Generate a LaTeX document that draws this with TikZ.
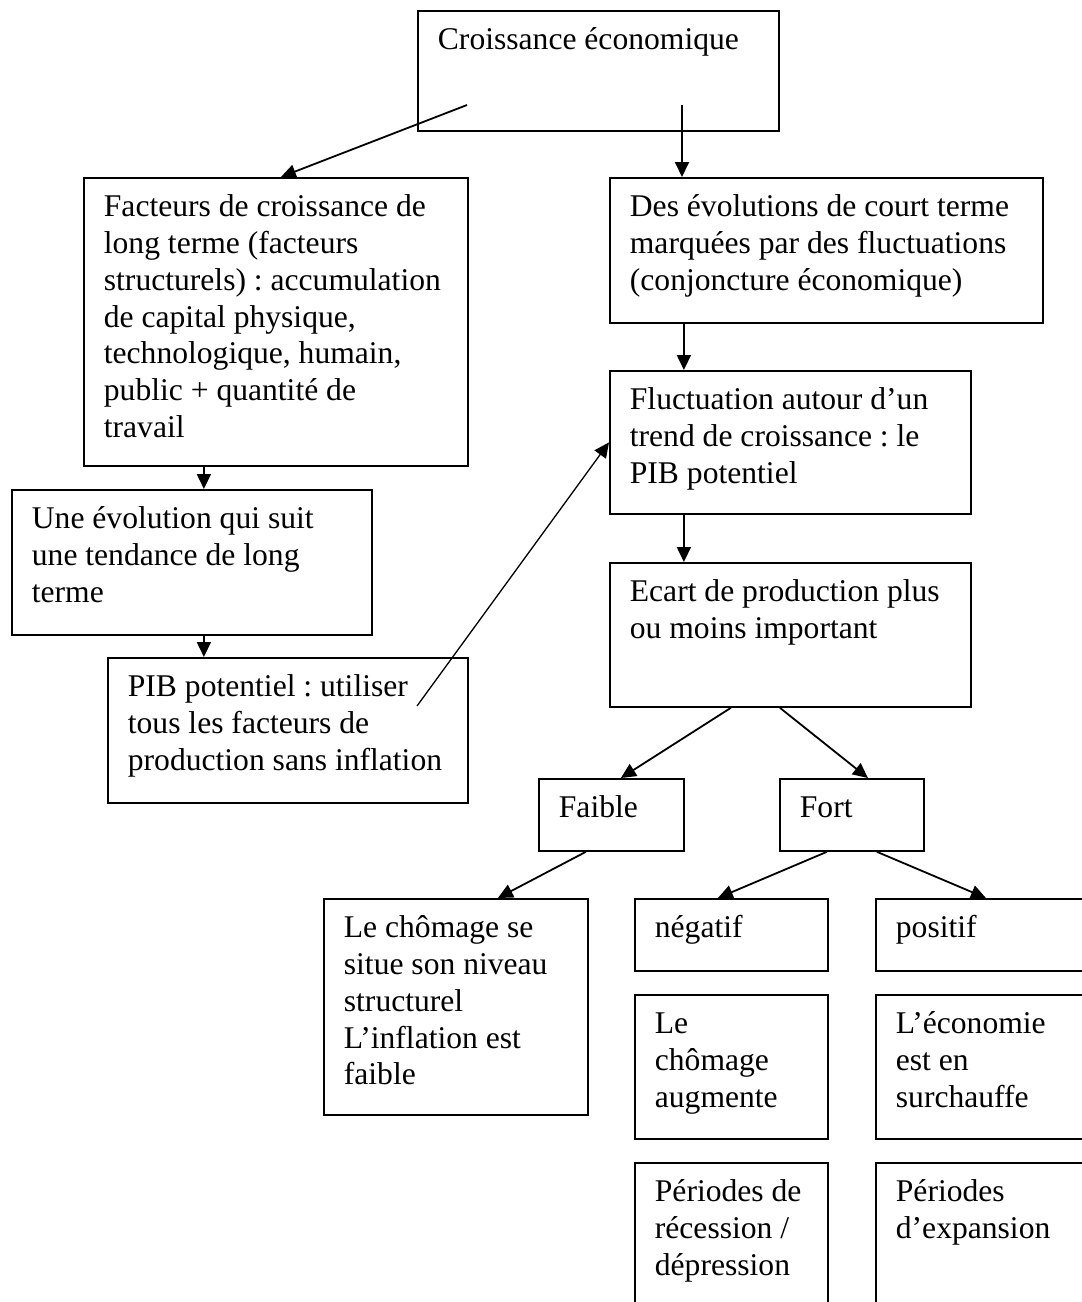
\documentclass[tikz,border=0pt]{standalone}
\usepackage{fontspec}
\setmainfont{Liberation Serif}
\usetikzlibrary{arrows.meta}
\frenchspacing
\newcommand{\policeboite}{\fontsize{15.8}{18.35}\selectfont}

\begin{document}
\begin{tikzpicture}[x=0.5pt, y=-0.5pt,
    boite/.style={draw, line width=0.9pt, anchor=north west, align=flush left,
      font=\policeboite, inner xsep=10pt, inner ysep=0pt, text height=19.5pt},
    fleche/.style={-{Triangle[length=7.5pt, width=7pt]}, line width=0.9pt}]
  \useasboundingbox (0,0) rectangle (1082,1302);
  \clip (0,0) rectangle (1082,1302);

  \node[boite, text width=160.5pt, text depth=40.5pt] (croissance) at (417,10) {Croissance économique};
  \node[boite, text width=172pt, text depth=124.5pt] (facteurs) at (83,177) {Facteurs de croissance de\\ long terme (facteurs\\ \mbox{structurels) : accumulation}\\ de capital physique,\\ technologique, humain,\\ public + quantité de\\ travail};
  \node[boite, text width=196.5pt, text depth=53pt] (evolutions) at (609,177) {\mbox{Des évolutions de court terme}\\ \mbox{marquées par des fluctuations}\\ (conjoncture économique)};
  \node[boite, text width=160pt, text depth=53pt] (une) at (11,489) {Une évolution qui suit\\ une tendance de long\\ terme};
  \node[boite, text width=160pt, text depth=53pt] (pib) at (107,657) {PIB potentiel : utiliser\\ tous les facteurs de\\ \mbox{production sans inflation}};
  \node[boite, text width=160.5pt, text depth=52pt] (fluctuation) at (609,370) {Fluctuation autour d’un\\ trend de croissance : le\\ PIB potentiel};
  \node[boite, text width=160.5pt, text depth=52.5pt] (ecart) at (609,562) {\mbox{Ecart de production plus}\\ ou moins important};
  \node[boite, text width=52.5pt, text depth=16.5pt] (faible) at (538,778) {Faible};
  \node[boite, text width=52pt, text depth=16.5pt] (fort) at (779,778) {Fort};
  \node[boite, text width=112pt, text depth=88.5pt] (chomage) at (323,898) {Le chômage se\\ situe son niveau\\ structurel\\ L’inflation est\\ faible};
  \node[boite, text width=76.5pt, text depth=16.5pt] (negatif) at (634,898) {négatif};
  \node[boite, text width=87.5pt, text depth=16.5pt] (positif) at (875,898) {positif};
  \node[boite, text width=76.5pt, text depth=52.5pt] (augmente) at (634,994) {Le\\ chômage\\ augmente};
  \node[boite, text width=87.5pt, text depth=52.5pt] (surchauffe) at (875,994) {L’économie\\ est en\\ surchauffe};
  \node[boite, text width=76.5pt, text depth=60.5pt] (recession) at (634,1162) {\mbox{Périodes de}\\ récession /\\ dépression};
  \node[boite, text width=87.5pt, text depth=60.5pt] (expansion) at (875,1162) {Périodes\\ d’expansion};

  \coordinate (crg) at (467,105);
  \coordinate (crd) at (682,105);
  \coordinate (pibd) at (417,706);

  \draw[fleche] (crg) -- ([xshift=2.5pt]facteurs.north);
  \draw[fleche] (crd) -- (crd |- evolutions.north);
  \draw[fleche] ([xshift=-36pt]facteurs.south) -- ([xshift=6pt]une.north);
  \draw[fleche] ([xshift=6pt]une.south) -- ([xshift=-42pt]pib.north);
  \draw[fleche] ([xshift=-71.25pt]evolutions.south) -- ([xshift=-53.25pt]fluctuation.north);
  \draw[fleche] ([xshift=-53.25pt]fluctuation.south) -- ([xshift=-53.25pt]ecart.north);
  \draw[fleche, line width=0.65pt] (pibd) -- (fluctuation.west);
  \draw[fleche] ([xshift=-29.75pt]ecart.south) -- ([xshift=4.75pt]faible.north);
  \draw[fleche] ([xshift=-5.25pt]ecart.south) -- ([xshift=8pt]fort.north);
  \draw[fleche] ([xshift=-12.75pt]faible.south) -- ([xshift=21pt]chomage.north);
  \draw[fleche] ([xshift=-12.5pt]fort.south) -- ([xshift=-6.75pt]negatif.north);
  \draw[fleche] ([xshift=12.5pt]fort.south) -- ([xshift=1.25pt]positif.north);
\end{tikzpicture}
\end{document}
